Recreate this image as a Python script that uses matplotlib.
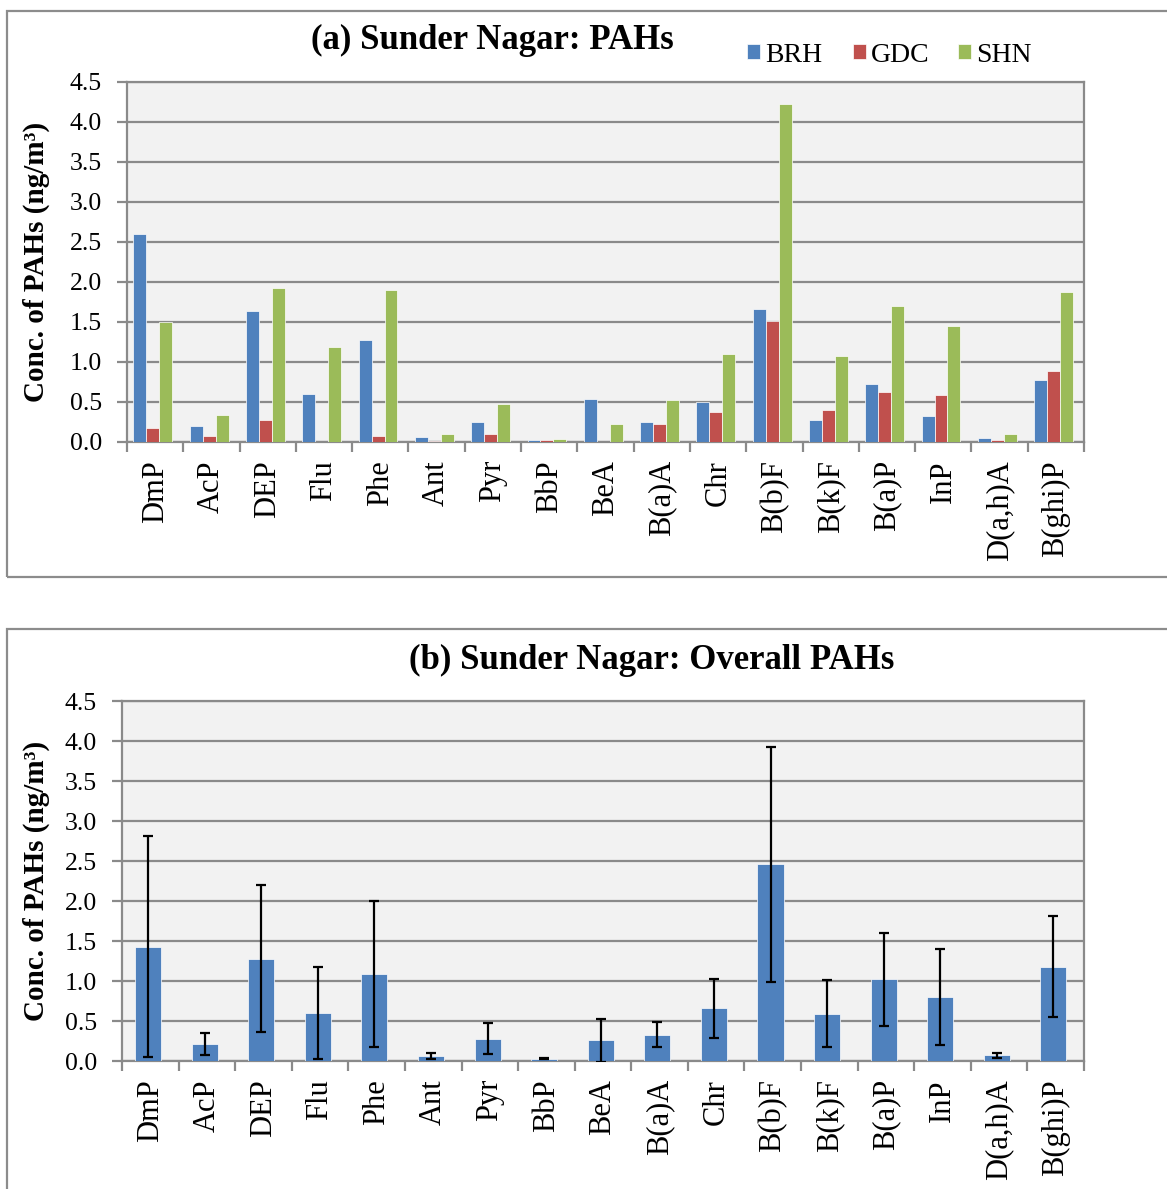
import matplotlib
matplotlib.use("Agg")
import matplotlib.pyplot as plt
from matplotlib.patches import Rectangle
import numpy as np

# ---- data ----
compounds = ["DmP", "AcP", "DEP", "Flu", "Phe", "Ant", "Pyr", "BbP", "BeA",
             "B(a)A", "Chr", "B(b)F", "B(k)F", "B(a)P", "InP", "D(a,h)A", "B(ghi)P"]

brh = [2.60, 0.20, 1.64, 0.60, 1.28, 0.06, 0.25, 0.03, 0.54,
       0.25, 0.50, 1.66, 0.28, 0.73, 0.33, 0.05, 0.78]
gdc = [0.18, 0.07, 0.27, 0.00, 0.08, 0.01, 0.10, 0.03, 0.00,
       0.22, 0.38, 1.51, 0.40, 0.63, 0.59, 0.03, 0.89]
shn = [1.50, 0.34, 1.93, 1.19, 1.90, 0.10, 0.48, 0.04, 0.23,
       0.52, 1.10, 4.22, 1.08, 1.70, 1.45, 0.10, 1.87]

overall_mean = [1.43, 0.21, 1.28, 0.60, 1.09, 0.06, 0.28, 0.03, 0.26,
                0.33, 0.66, 2.46, 0.59, 1.02, 0.80, 0.07, 1.18]
overall_sd = [1.38, 0.14, 0.92, 0.57, 0.91, 0.04, 0.19, 0.01, 0.27,
              0.16, 0.37, 1.47, 0.42, 0.58, 0.60, 0.035, 0.63]

series_names = ["BRH", "GDC", "SHN"]
series_colors = ["#4F81BD", "#C0504D", "#9BBB59"]

# ---- styling ----
W, H = 1167, 1189
plt.rcParams["font.family"] = ["Liberation Serif", "DejaVu Serif"]
GRID = "#8a8a8a"
BG = "#F2F2F2"

fig = plt.figure(figsize=(W / 100, H / 100), dpi=100)


def px_axes(left, top, right, bottom):
    return fig.add_axes([left / W, 1 - bottom / H, (right - left) / W, (bottom - top) / H])


def style_axes(ax, left_px, right_px):
    n = len(compounds)
    x = np.arange(n)
    ax.set_facecolor(BG)
    ax.set_xlim(-0.5, n - 0.5)
    ax.set_ylim(0, 4.5)
    ticks = np.arange(0, 4.51, 0.5)
    ax.set_yticks(ticks)
    ax.set_yticklabels([f"{v:.1f}" for v in ticks], fontsize=18.5)
    ax.yaxis.grid(True, color=GRID, linewidth=1.6)
    ax.set_axisbelow(True)
    for s in ax.spines.values():
        s.set_color(GRID)
        s.set_linewidth(1.6)
    ax.set_xticks(x)
    ax.set_xticklabels(compounds, rotation=90, fontsize=22)
    ax.tick_params(axis="x", which="major", length=0, pad=13)
    ax.set_xticks(np.arange(-0.5, n, 1.0), minor=True)
    ax.tick_params(axis="x", which="minor", length=7, width=1.6, color=GRID)
    ax.tick_params(axis="y", length=7, width=1.6, color=GRID, pad=11)
    ax.set_ylabel("Conc. of PAHs (ng/m³)", fontsize=21, fontweight="bold")
    ax.yaxis.set_label_coords((50 - left_px) / (right_px - left_px), 0.5)
    return x


# outer chart frames
fig.patches.append(Rectangle((7 / W, 1 - 577 / H), 1.2, (577 - 11) / H,
                             transform=fig.transFigure, fill=False,
                             edgecolor="#8c8c8c", linewidth=1.6))
fig.patches.append(Rectangle((7 / W, -0.1), 1.2, 0.1 + (H - 629) / H,
                             transform=fig.transFigure, fill=False,
                             edgecolor="#8c8c8c", linewidth=1.6))

# ---- (a) per-site PAHs ----
ax1 = px_axes(127, 82, 1084, 442)
x = style_axes(ax1, 127, 1084)
bw = 0.23
handles = []
for i, (vals, name, col) in enumerate(zip([brh, gdc, shn], series_names, series_colors)):
    bars = ax1.bar(x + (i - 1) * bw - 0.04, vals, width=bw, color=col, edgecolor="white",
                   linewidth=0.5, label=name, zorder=3)
    handles.append(bars)
fig.text(492 / W, 1 - 40 / H, "(a) Sunder Nagar: PAHs", ha="center", va="center",
         fontsize=25, fontweight="bold")

# evenly spaced legend entries across the top right
for i, (h, name) in enumerate(zip(handles, series_names)):
    fig.legend([h], [name], loc="center left",
               bbox_to_anchor=((747 + 105.5 * i) / W, 1 - 55 / H),
               frameon=False, fontsize=20, handlelength=0.47, handleheight=0.47,
               handletextpad=0.2, borderpad=0, borderaxespad=0)

# ---- (b) overall PAHs ----
ax2 = px_axes(122, 701, 1084, 1061)
x = style_axes(ax2, 122, 1084)
ax2.bar(x - 0.04, overall_mean, width=0.46, color="#4F81BD", edgecolor="white",
        linewidth=0.5, zorder=3)
ax2.errorbar(x - 0.04, overall_mean, yerr=overall_sd, fmt="none", ecolor="black",
             elinewidth=1.6, capsize=3.6, capthick=1.6, zorder=4)
fig.text(652 / W, 1 - 660 / H, "(b) Sunder Nagar: Overall PAHs", ha="center",
         va="center", fontsize=25, fontweight="bold")

fig.savefig("out.png", dpi=100)
